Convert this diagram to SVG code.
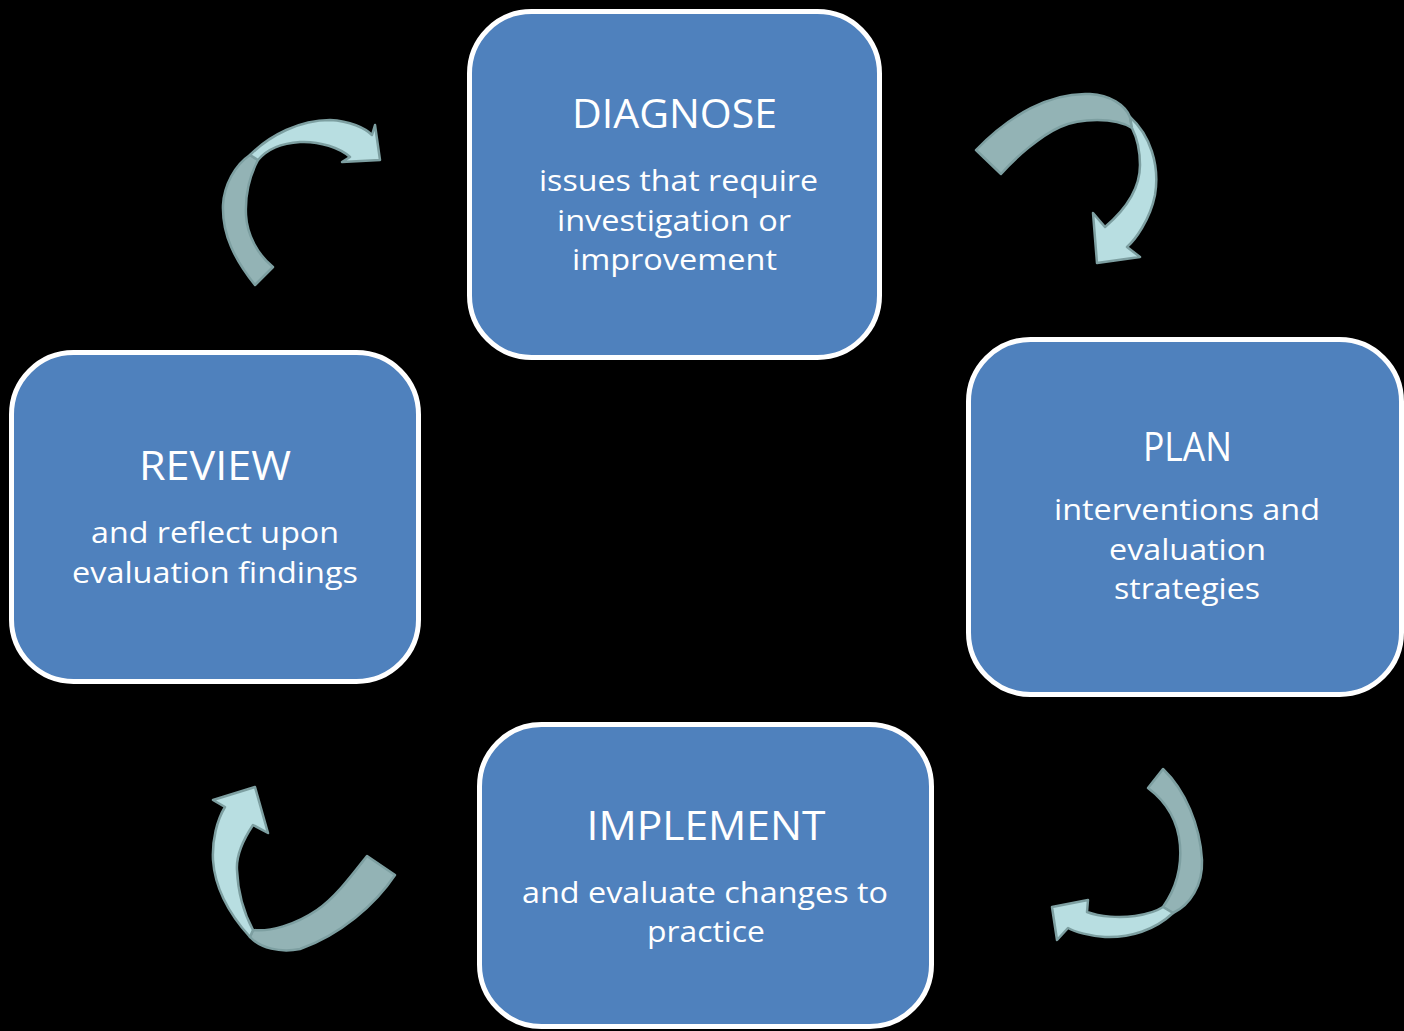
<svg xmlns="http://www.w3.org/2000/svg" width="1404" height="1031" viewBox="0 0 1404 1031">
<style>
.box{fill:#4F81BD;stroke:#FFFFFF;stroke-width:5}
.t{font-family:"Open Sans","Noto Sans","Liberation Sans",sans-serif;fill:#FFFFFF;text-anchor:middle}
.h{font-size:41px}
.b{font-size:29px}
.back{fill:#93B3B5;stroke:#7D9FA1;stroke-width:2.5;stroke-linejoin:round}
.front{fill:#B8DEE1;stroke:#7D9FA1;stroke-width:2.5;stroke-linejoin:round}
</style>
<rect width="1404" height="1031" fill="#000000"/>
<g id="connectors">
<g id="arrow-diagnose-plan">
<path class="back" d="M976,150 C1010,115 1050,92 1090,94 C1110,95 1125,105 1130,117 L1132,128 C1115,117 1080,118 1060,127 C1040,136 1015,158 1001,174 Z"/>
<path class="front" d="M1130,117 C1150,135 1160,165 1155,195 C1150,220 1135,240 1127,247 L1140,257 L1097,263 L1093,213 L1105,227 C1125,210 1140,190 1140,165 C1140,150 1137,138 1132,128 Z"/>
</g>
<g id="arrow-plan-implement">
<path class="back" d="M1148,788 L1163,769 C1185,790 1200,825 1202,860 C1203,885 1190,905 1173,913 L1163,907 C1175,890 1182,870 1180,845 C1178,822 1168,803 1148,788 Z"/>
<path class="front" d="M1173,913 C1155,930 1130,938 1105,937 C1090,936 1075,932 1068,928 L1057,940 L1052,907 L1088,900 L1087,912 C1100,917 1120,918 1135,916 C1148,914 1157,911 1163,907 Z"/>
</g>
<g id="arrow-implement-review">
<path class="back" d="M367,856 L395,875 C375,905 340,935 300,949 C280,953 260,948 250,937 L253,930 C270,932 295,925 317,910 C335,898 352,875 367,856 Z"/>
<path class="front" d="M250,937 C230,915 215,890 213,860 C212,840 217,820 225,807 L213,800 L255,787 L268,833 L253,825 C243,840 236,855 237,870 C238,895 245,915 253,930 Z"/>
</g>
<g id="arrow-review-diagnose">
<path class="back" d="M255,285 C235,260 222,235 223,205 C224,185 235,165 250,155 L258,160 C250,175 245,195 246,215 C247,235 258,255 273,267 Z"/>
<path class="front" d="M250,155 C270,135 300,120 330,120 C350,121 365,128 372,135 L375,125 L380,160 L342,162 L350,157 C340,148 320,141 300,142 C285,143 268,148 258,160 Z"/>
</g>
</g>
<g id="diagnose">
<rect class="box" x="469.5" y="11.5" width="410" height="346" rx="62"/>
<text class="t h" x="674.5" y="128" textLength="205" lengthAdjust="spacingAndGlyphs">DIAGNOSE</text>
<text class="t b" x="678.5" y="191" textLength="279" lengthAdjust="spacingAndGlyphs">issues that require</text>
<text class="t b" x="674" y="231" textLength="234" lengthAdjust="spacingAndGlyphs">investigation or</text>
<text class="t b" x="674.5" y="270" textLength="205" lengthAdjust="spacingAndGlyphs">improvement</text>
</g>
<g id="plan">
<rect class="box" x="968.5" y="339.5" width="433" height="355" rx="62"/>
<text class="t h" x="1187.5" y="461" textLength="89" lengthAdjust="spacingAndGlyphs">PLAN</text>
<text class="t b" x="1187" y="520" textLength="266" lengthAdjust="spacingAndGlyphs">interventions and</text>
<text class="t b" x="1187.5" y="560" textLength="157" lengthAdjust="spacingAndGlyphs">evaluation</text>
<text class="t b" x="1187" y="599" textLength="146" lengthAdjust="spacingAndGlyphs">strategies</text>
</g>
<g id="implement">
<rect class="box" x="479.5" y="724.5" width="452" height="302" rx="62"/>
<text class="t h" x="706" y="840" textLength="239" lengthAdjust="spacingAndGlyphs">IMPLEMENT</text>
<text class="t b" x="705" y="903" textLength="366" lengthAdjust="spacingAndGlyphs">and evaluate changes to</text>
<text class="t b" x="706" y="942" textLength="118" lengthAdjust="spacingAndGlyphs">practice</text>
</g>
<g id="review">
<rect class="box" x="11.5" y="352.5" width="407" height="329" rx="62"/>
<text class="t h" x="215" y="480" textLength="152" lengthAdjust="spacingAndGlyphs">REVIEW</text>
<text class="t b" x="215" y="543" textLength="248" lengthAdjust="spacingAndGlyphs">and reflect upon</text>
<text class="t b" x="215" y="583" textLength="286" lengthAdjust="spacingAndGlyphs">evaluation findings</text>
</g>
</svg>
